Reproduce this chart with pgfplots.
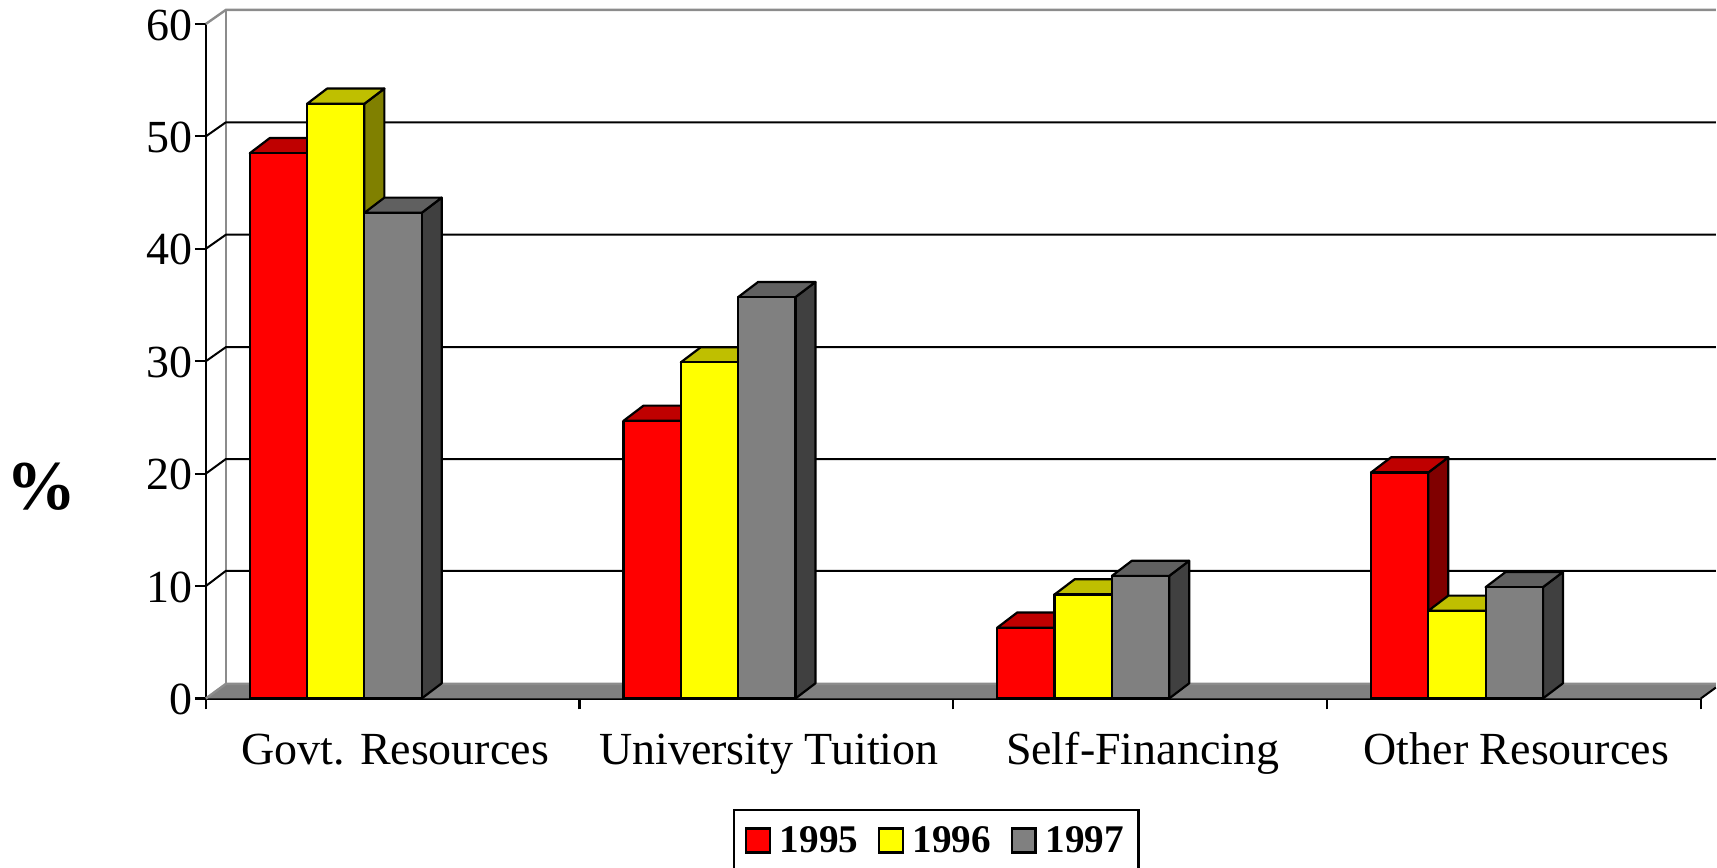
\documentclass[border=0pt]{standalone}
\usepackage{pgfplots}
\pgfplotsset{compat=1.18}
\usepackage{fontspec}
\setmainfont{Liberation Serif}
\definecolor{floorgray}{HTML}{808080}
\definecolor{edgegray}{HTML}{8C8C8C}
\definecolor{redf}{HTML}{FF0000}\definecolor{redt}{HTML}{BF0000}\definecolor{reds}{HTML}{800000}
\definecolor{yelf}{HTML}{FFFF00}\definecolor{yelt}{HTML}{BFBF00}\definecolor{yels}{HTML}{808000}
\definecolor{grayf}{HTML}{808080}\definecolor{grayt}{HTML}{606060}\definecolor{grays}{HTML}{404040}
\newcommand\ddx{0.0535}
\newcommand\ddy{1.35}
\newcommand\bw{0.1533}
% #1 group, #2 slot, #3 value, #4 colour stem
\newcommand\dbar[4]{%
  \pgfmathsetmacro\xa{#1+0.1176+#2*\bw}%
  \pgfmathsetmacro\xb{\xa+\bw}%
  \pgfmathsetmacro\xc{\xb+\ddx}%
  \pgfmathsetmacro\xd{\xa+\ddx}%
  \pgfmathsetmacro\yt{#3+\ddy}%
  \edef\tmp{%
  \noexpand\addplot[forget plot,draw=black,line width=1.1pt,line join=round,fill=#4s] coordinates {(\xb,0) (\xc,\ddy) (\xc,\yt) (\xb,#3)} --cycle;
  \noexpand\addplot[forget plot,draw=black,line width=1.1pt,line join=round,fill=#4t] coordinates {(\xa,#3) (\xd,\yt) (\xc,\yt) (\xb,#3)} --cycle;
  \noexpand\addplot[forget plot,draw=black,line width=1.1pt,line join=round,fill=#4f] coordinates {(\xa,0) (\xa,#3) (\xb,#3) (\xb,0)} --cycle;
  }\tmp}
\begin{document}
\begin{tikzpicture}
\begin{axis}[
  scale only axis, width=748pt, height=337.5pt,
  xmin=0, xmax=4, ymin=0, ymax=60,
  clip=false,
  axis x line*=bottom, axis y line*=left,
  axis line style={line width=1.1pt},
  tick style={black,line width=1.1pt},
  tick align=outside, major tick length=5.5pt,
  xtick={0,1,2,3,4}, ytick={0,10,20,30,40,50,60},
  x tick label as interval,
  xticklabels={Govt. Resources,University Tuition,Self-Financing,Other Resources},
  ticklabel style={font=\fontsize{23}{26}\selectfont},
  xticklabel style={text height=16pt,text depth=5pt,yshift=-8pt,xshift=1.2pt},
  yticklabel style={xshift=2.5pt,yshift=-0.5pt},
  /pgf/number format/assume math mode=true,
  legend columns=3,
  legend style={overlay,at={(axis cs:1.411,-9.83)},anchor=north west,draw=black,line width=1.1pt,
    font=\fontsize{19.6}{22}\selectfont\bfseries,inner xsep=5.2pt,inner ysep=6pt,
    /tikz/every even column/.append style={column sep=7.7pt},
    /tikz/every odd column/.append style={column sep=2.5pt}},
  legend image code/.code={\draw[#1,draw=black,line width=1.1pt] (0pt,-6pt) rectangle (12pt,6pt);},
]
% walls
\addplot[forget plot,draw=edgegray,line width=1.2pt] coordinates {(0,60) (0.0535,61.25) (4.0401,61.25)};
\addplot[forget plot,draw=edgegray,line width=1.2pt] coordinates {(0.0535,61.25) (0.0535,1.3)};
% floor
\addplot[forget plot,draw=none,fill=floorgray] coordinates {(0,0) (0.0535,1.3) (4.0401,1.3) (4.0401,0.97) (4,0)} --cycle;
\addplot[forget plot,draw=edgegray,line width=1.2pt] coordinates {(0,0) (0.0535,1.3) (4.0401,1.3)};
% gridlines
\addplot[forget plot,draw=black,line width=1pt] coordinates {(0,10) (0.0535,11.35) (4.0401,11.35)};
\addplot[forget plot,draw=black,line width=1pt] coordinates {(0,20) (0.0535,21.3) (4.0401,21.3)};
\addplot[forget plot,draw=black,line width=1pt] coordinates {(0,30) (0.0535,31.25) (4.0401,31.25)};
\addplot[forget plot,draw=black,line width=1pt] coordinates {(0,40) (0.0535,41.25) (4.0401,41.25)};
\addplot[forget plot,draw=black,line width=1pt] coordinates {(0,50) (0.0535,51.25) (4.0401,51.25)};
\addplot[forget plot,draw=black,line width=1pt] coordinates {(4,0) (4.0401,0.97)};
% bars
\dbar{0}{0}{48.5}{red}
\dbar{0}{1}{52.9}{yel}
\dbar{0}{2}{43.2}{gray}
\dbar{1}{0}{24.7}{red}
\dbar{1}{1}{29.9}{yel}
\dbar{1}{2}{35.7}{gray}
\dbar{2}{0}{6.3}{red}
\dbar{2}{1}{9.25}{yel}
\dbar{2}{2}{10.9}{gray}
\dbar{3}{0}{20.1}{red}
\dbar{3}{1}{7.8}{yel}
\dbar{3}{2}{9.9}{gray}
\addlegendimage{fill=redf}\addlegendentry{1995}
\addlegendimage{fill=yelf}\addlegendentry{1996}
\addlegendimage{fill=grayf}\addlegendentry{1997}
\node[font=\fontsize{35}{38}\selectfont\bfseries] at (axis cs:-0.4385,18.8) {\%};
\path[use as bounding box] (axis cs:-0.5508,-15.02) rectangle (axis cs:4.0401,62.13);
\end{axis}
\end{tikzpicture}
\end{document}
